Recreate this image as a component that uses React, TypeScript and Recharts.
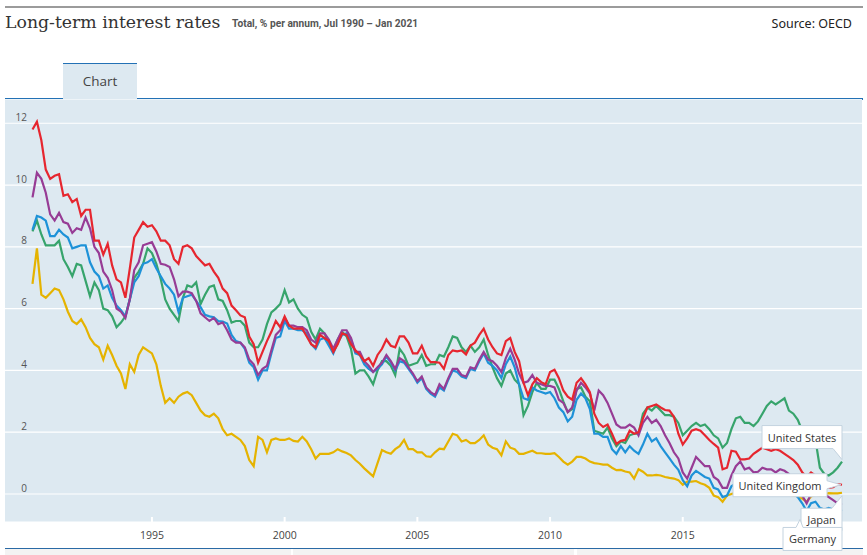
import React from "react";
import { LineChart, Line, XAxis, YAxis, CartesianGrid } from "recharts";

// bimonthly readings, Jul 1990 .. Jan 2021 (Jul, Sep, Nov, Jan, Mar, May ...)
const START_YEAR = 1990;
const START_MONTH = 7;

const UK = [
  11.8, 12.05, 11.45,
  10.5, 10.2, 10.3, 10.35, 9.65, 9.7,
  9.45, 9.55, 9.0, 9.2, 9.2, 8.2,
  8.2, 7.75, 8.1, 7.4, 6.95, 6.85,
  6.35, 7.3, 8.3, 8.55, 8.8, 8.65,
  8.7, 8.5, 8.2, 8.2, 8.05, 7.6,
  7.45, 8.0, 8.05, 7.95, 7.7, 7.55,
  7.4, 7.45, 7.2, 7.0, 6.65, 6.5,
  6.1, 5.95, 5.78, 5.72, 5.1, 4.85,
  4.25, 4.6, 4.95, 5.25, 5.6, 5.4,
  5.75, 5.45, 5.35, 5.35, 5.35, 5.1,
  4.85, 4.75, 5.15, 5.05, 4.95, 4.6,
  4.85, 5.2, 5.15, 4.85, 4.65, 4.5,
  4.3, 4.4, 4.15, 4.5, 4.7, 5.0,
  4.8, 4.75, 5.1, 5.1, 4.9, 4.55,
  4.55, 4.8, 4.45, 4.27, 4.27, 4.25,
  4.05, 4.5, 4.65, 4.62, 4.65, 4.52,
  4.8, 4.9, 5.15, 5.35, 5.0, 4.75,
  4.55, 4.5, 4.95, 5.05, 4.6, 4.3,
  3.6, 3.2, 3.55, 3.75, 3.62, 3.55,
  3.95, 4.02, 3.75, 3.35, 3.15, 3.05,
  3.6, 3.75, 3.55, 3.3, 2.6, 2.3,
  2.17, 2.25, 1.95, 1.62, 1.72, 1.75,
  2.05, 1.95, 2.0, 2.45, 2.8, 2.85,
  2.9, 2.8, 2.72, 2.7, 2.5, 1.95,
  1.6, 1.8, 2.05, 2.1, 2.05, 1.9,
  1.75, 1.62, 1.5, 0.8, 0.85, 1.4,
  1.37, 1.12, 1.12, 1.15, 1.3, 1.4,
  1.5, 1.45, 1.4, 1.45, 1.4, 1.3,
  1.2, 1.1, 0.95, 0.7, 0.55, 0.7,
  0.6, 0.45, 0.25, 0.2, 0.22, 0.32,
  0.3,
];

const US = [
  8.5, 8.85, 8.4,
  8.05, 8.05, 8.05, 8.2, 7.6, 7.35,
  7.05, 7.45, 7.4, 6.9, 6.4, 6.85,
  6.6, 6.0, 5.95, 5.75, 5.4, 5.55,
  5.75, 6.3, 7.0, 7.2, 7.45, 7.95,
  7.8, 7.45, 6.95, 6.3, 6.0, 5.8,
  5.6, 6.35, 6.75, 6.7, 6.85, 6.15,
  6.45, 6.7, 6.75, 6.3, 6.25, 5.95,
  5.55, 5.6, 5.6, 5.45, 4.9, 4.75,
  4.75, 5.0, 5.5, 5.88, 6.0, 6.15,
  6.6, 6.2, 6.3, 6.0, 5.8, 5.7,
  5.25, 5.0, 5.35, 5.2, 4.9, 4.65,
  5.0, 5.25, 5.1, 4.7, 3.9, 4.0,
  4.0, 3.8, 3.55, 4.0, 4.3, 4.3,
  4.15, 3.85, 4.7, 4.5, 4.15, 4.2,
  4.25, 4.5, 4.15, 4.2, 4.2, 4.5,
  4.45, 4.75, 5.1, 5.05, 4.75, 4.6,
  4.8, 4.6, 4.75, 5.0, 4.5, 4.1,
  3.75, 3.5, 3.9, 4.0, 3.7, 3.55,
  2.55, 2.85, 3.3, 3.6, 3.4, 3.4,
  3.7, 3.7, 3.4, 3.0, 2.65, 2.75,
  3.4, 3.45, 3.15, 3.0, 2.05, 2.0,
  1.95, 2.15, 1.8, 1.55, 1.7, 1.65,
  1.9, 1.95, 1.95, 2.6, 2.8, 2.7,
  2.85, 2.7, 2.55, 2.55, 2.5, 2.3,
  1.9, 2.05, 2.2, 2.3, 2.2, 2.25,
  2.1, 1.9, 1.8, 1.5, 1.65, 2.1,
  2.45, 2.5, 2.3, 2.3, 2.2, 2.35,
  2.6, 2.85, 3.0, 2.9, 3.0, 3.1,
  2.7, 2.6, 2.4, 2.05, 1.7, 1.8,
  1.75, 0.85, 0.65, 0.6, 0.7, 0.85,
  1.05,
];

const GERMANY = [
  8.55, 9.0, 8.95,
  8.85, 8.35, 8.35, 8.55, 8.4, 8.3,
  7.95, 8.0, 8.05, 8.05, 7.5, 7.2,
  7.05, 6.65, 6.75, 6.35, 6.1, 5.95,
  5.75, 6.3, 6.85, 7.05, 7.45, 7.5,
  7.6, 7.3, 7.05, 6.8, 6.65, 6.45,
  5.9, 6.35, 6.4, 6.45, 6.25, 6.05,
  5.8, 5.75, 5.72, 5.6, 5.58, 5.52,
  5.15, 4.95, 4.9, 4.7, 4.25, 4.1,
  3.7, 4.0, 4.0, 4.55, 5.05, 5.1,
  5.6, 5.35, 5.35, 5.3, 5.3, 5.2,
  4.85, 4.7, 5.0, 5.05, 4.8, 4.55,
  4.9, 5.15, 5.2, 5.0, 4.55, 4.5,
  4.2, 4.05, 3.95, 4.05, 4.2, 4.45,
  4.25, 4.0, 4.3, 4.25, 4.05, 3.85,
  3.6, 3.75, 3.4, 3.25, 3.15, 3.45,
  3.35, 3.7, 4.0, 3.95, 3.8, 3.75,
  4.05, 4.0, 4.3, 4.55, 4.25, 4.15,
  4.0, 3.75, 4.2, 4.45, 4.1, 3.55,
  3.1, 3.05, 3.45, 3.35, 3.3, 3.25,
  3.3, 3.1, 2.8, 2.65, 2.35, 2.5,
  3.05, 3.25, 3.1, 2.75, 1.95, 1.95,
  1.85, 1.85, 1.45, 1.3, 1.55, 1.35,
  1.55, 1.4, 1.3, 1.6, 1.95, 1.7,
  1.8, 1.55, 1.35, 1.15, 0.95, 0.78,
  0.45, 0.25, 0.6, 0.75, 0.65, 0.55,
  0.5, 0.2, 0.15, -0.1, -0.05, 0.25,
  0.35, 0.4, 0.35, 0.55, 0.42, 0.37,
  0.55, 0.6, 0.5, 0.35, 0.45, 0.35,
  0.15, 0.0, -0.1, -0.3, -0.55, -0.3,
  -0.25, -0.45, -0.5, -0.45, -0.5, -0.55,
  -0.5,
];

const FRANCE = [
  9.6, 10.4, 10.2,
  9.75, 9.05, 8.85, 9.1, 8.8, 8.75,
  8.45, 8.6, 8.55, 8.95, 8.6, 8.0,
  7.8, 7.2, 7.0, 6.6, 6.0, 5.9,
  5.7, 6.3, 7.25, 7.5, 8.05, 8.1,
  8.15, 7.85, 7.45, 7.42, 7.35, 6.95,
  6.4, 6.55, 6.55, 6.5, 6.25, 5.85,
  5.72, 5.6, 5.7, 5.5, 5.55, 5.3,
  5.0, 4.9, 4.9, 4.75, 4.35, 4.2,
  3.85, 4.05, 4.15, 4.65, 5.15, 5.3,
  5.7, 5.45, 5.45, 5.4, 5.4, 5.3,
  5.0, 4.9, 5.2, 5.2, 5.0, 4.7,
  5.0, 5.3, 5.3, 5.05, 4.6, 4.6,
  4.3, 4.15, 3.95, 4.1, 4.25, 4.5,
  4.3, 4.05, 4.4, 4.3, 4.1, 3.9,
  3.65, 3.8, 3.45, 3.3, 3.2, 3.55,
  3.4, 3.75, 4.05, 4.05, 3.85, 3.8,
  4.1, 4.05, 4.35, 4.6, 4.35, 4.3,
  4.15, 3.95, 4.4, 4.7, 4.35, 3.9,
  3.6, 3.65, 3.85, 3.6, 3.55, 3.5,
  3.5, 3.45, 3.05, 2.95, 2.65, 2.8,
  3.35, 3.6, 3.45, 3.25, 2.7, 3.35,
  3.2, 2.95, 2.6, 2.25, 2.15, 2.15,
  2.25, 2.15, 1.9, 2.3, 2.5, 2.3,
  2.4, 2.2, 1.9, 1.65, 1.35, 1.15,
  0.7, 0.5, 0.85, 1.2, 1.05, 0.9,
  0.9, 0.55, 0.45, 0.2, 0.2, 0.6,
  0.9, 1.05, 0.8, 0.85, 0.7, 0.72,
  0.85, 0.8, 0.8, 0.7, 0.8, 0.75,
  0.65, 0.4, 0.3, -0.05, -0.3, 0.0,
  0.0, 0.0, 0.0, -0.1, -0.2, -0.3,
  -0.35,
];

const JAPAN = [
  6.8, 7.95, 6.45,
  6.35, 6.5, 6.65, 6.6, 6.3, 5.9,
  5.6, 5.5, 5.65, 5.4, 5.05, 4.85,
  4.75, 4.35, 4.8, 4.5, 4.15, 3.9,
  3.4, 4.2, 3.95, 4.5, 4.75, 4.65,
  4.55, 4.2, 3.5, 2.95, 3.1, 2.95,
  3.15, 3.25, 3.3, 3.2, 2.95, 2.7,
  2.55, 2.5, 2.6, 2.45, 2.1, 1.9,
  1.95, 1.85, 1.75, 1.55, 1.1, 0.9,
  1.85, 1.75, 1.35, 1.75, 1.8, 1.75,
  1.75, 1.8, 1.72, 1.7, 1.85, 1.7,
  1.45, 1.15, 1.3, 1.3, 1.3, 1.35,
  1.45, 1.38, 1.33, 1.25, 1.1, 0.98,
  0.83, 0.7, 0.57, 1.0, 1.42, 1.35,
  1.3, 1.45, 1.55, 1.75, 1.45, 1.45,
  1.35, 1.35, 1.22, 1.2, 1.35, 1.47,
  1.45, 1.7, 1.95, 1.9, 1.7, 1.75,
  1.65, 1.65, 1.75, 1.9, 1.6, 1.5,
  1.45, 1.25, 1.7, 1.5, 1.45, 1.3,
  1.3, 1.35, 1.4, 1.32, 1.32, 1.3,
  1.3, 1.32, 1.2, 1.05, 0.95, 1.05,
  1.2, 1.2, 1.15, 1.05, 1.0, 0.98,
  0.95, 0.95, 0.85, 0.77, 0.78, 0.73,
  0.7, 0.5, 0.8, 0.72, 0.6, 0.6,
  0.62, 0.6, 0.55, 0.52, 0.5, 0.45,
  0.3, 0.4, 0.4, 0.42, 0.35, 0.3,
  0.2, -0.05, -0.1, -0.25, -0.05, 0.0,
  0.05, 0.07, 0.03, 0.07, 0.03, 0.04,
  0.06, 0.04, 0.05, 0.05, 0.12, 0.1,
  0.0, -0.05, -0.07, -0.15, -0.25, -0.08,
  -0.02, -0.05, -0.01, 0.03, 0.02, 0.02,
  0.04,
];

const Y_TICKS = [0, 2, 4, 6, 8, 10, 12];
const X_TICKS = [1995, 2000, 2005, 2010, 2015];

const COLORS = {
  us: "#37a46c",
  jp: "#e5b300",
  de: "#1e92d8",
  fr: "#973c95",
  uk: "#e6262f",
};

const data = UK.map((uk, i) => {
  const m = START_MONTH - 1 + 2 * i;
  return {
    t: START_YEAR + m / 12,
    uk,
    us: US[i],
    de: GERMANY[i],
    fr: FRANCE[i],
    jp: JAPAN[i],
  };
});
const LAST = data.length - 1;

// callout boxes, relative to the last point of each line
const CALLOUTS: Record<string, { text: string; path: string; cx: number; cy: number }> = {
  us: { text: "United States", path: "M -80 -36 H 0 V -2 L -9 -13 H -80 Z", cx: -40, cy: -24.5 },
  uk: { text: "United Kingdom", path: "M -109 -11 H -15 V -4 L -1 0 L -15 4 V 12 H -109 Z", cx: -62, cy: 0.5 },
  jp: { text: "Japan", path: "M -41 15.5 H -10 L 0 3 V 38 H -41 Z", cx: -20.5, cy: 27 },
  de: { text: "Germany", path: "M -59 18 H -46 L -42 10 L -39 18 H 0 V 41 H -59 Z", cx: -29.5, cy: 29.5 },
};

const endLabel = (key: string) => (props: any) => {
  const { x, y, index } = props;
  if (index !== LAST) return null;
  const c = CALLOUTS[key];
  return (
    <g transform={`translate(${x},${y})`}>
      <path d={c.path} fill="#fff" stroke="#c4d3df" strokeWidth={1} />
      <text
        x={c.cx}
        y={c.cy}
        textAnchor="middle"
        dominantBaseline="central"
        fontSize={11}
        fontFamily="'Open Sans', sans-serif"
        fill="#333"
      >
        {c.text}
      </text>
    </g>
  );
};

const YTick = (props: any) => {
  const { y, payload } = props;
  return (
    <text
      x={22}
      y={y - 6.5}
      textAnchor="end"
      dominantBaseline="central"
      fontSize={10}
      fontFamily="'Open Sans', sans-serif"
      fill="#555"
    >
      {payload.value}
    </text>
  );
};

const XTick = (props: any) => {
  const { x, y, payload } = props;
  return (
    <g>
      <line x1={x} x2={x} y1={y - 5} y2={y} stroke="#fff" strokeWidth={2} />
      <text
        x={x}
        y={y + 12.5}
        textAnchor="middle"
        dominantBaseline="central"
        fontSize={10.5}
        fontFamily="'Open Sans', sans-serif"
        fill="#444"
      >
        {payload.value}
      </text>
    </g>
  );
};

export default function App() {
  return (
    <div
      style={{
        position: "absolute",
        left: 0,
        top: 0,
        width: 867,
        height: 555,
        background: "#fff",
        overflow: "hidden",
      }}
    >
      <div style={{ position: "absolute", left: 5, top: 6, width: 858, height: 2, background: "#9b9b9b" }} />
      <div
        style={{
          position: "absolute",
          left: 5,
          top: 12,
          fontFamily: "'DejaVu Serif', serif",
          fontSize: 17.3,
          color: "#333",
          whiteSpace: "nowrap",
        }}
      >
        Long-term interest rates
      </div>
      <div
        style={{
          position: "absolute",
          left: 232,
          top: 18,
          fontFamily: "'Liberation Sans Narrow', 'Roboto', sans-serif",
          fontWeight: "bold",
          fontSize: 10.2,
          color: "#555",
          whiteSpace: "nowrap",
        }}
      >
        Total, % per annum, Jul 1990 – Jan 2021
      </div>
      <div
        style={{
          position: "absolute",
          right: 15,
          top: 15,
          fontFamily: "'Noto Sans', sans-serif",
          fontSize: 12.5,
          color: "#222",
          whiteSpace: "nowrap",
        }}
      >
        Source: OECD
      </div>

      {/* tab */}
      <div style={{ position: "absolute", left: 5, top: 98, width: 858, height: 1.5, background: "#2371b5" }} />
      <div
        style={{
          position: "absolute",
          left: 63,
          top: 63,
          width: 74,
          height: 36,
          background: "#dde9f1",
          borderTop: "1.5px solid #2371b5",
          boxSizing: "border-box",
          textAlign: "center",
          lineHeight: "34px",
          fontFamily: "'Open Sans', sans-serif",
          fontSize: 13.5,
          color: "#444",
        }}
      >
        Chart
      </div>

      {/* bottom strip */}
      <div style={{ position: "absolute", left: 5, top: 547.5, width: 858, height: 1.5, background: "#2a6aa5" }} />
      <div style={{ position: "absolute", left: 5, top: 549, width: 286, height: 6, background: "#f3f3f3" }} />
      <div style={{ position: "absolute", left: 293, top: 549, width: 281, height: 6, background: "#f3f3f3" }} />
      <div style={{ position: "absolute", left: 577, top: 549, width: 286, height: 6, background: "#f3f3f3" }} />

      <div style={{ position: "absolute", left: 5, top: 99 }}>
        <LineChart
          width={857}
          height={454}
          data={data}
          margin={{ top: 0, right: 0, bottom: 0, left: 0 }}
          style={{ overflow: "visible" }}
        >
          <CartesianGrid horizontal vertical={false} stroke="#ffffff" strokeWidth={1.2} fill="#dde9f1" />
          <XAxis
            dataKey="t"
            type="number"
            domain={[1989.464, 2021.753]}
            ticks={X_TICKS}
            allowDataOverflow
            axisLine={false}
            tickLine={false}
            tickSize={0}
            tickMargin={0}
            height={31}
            tick={<XTick />}
            interval={0}
          />
          <YAxis
            type="number"
            domain={[-0.906, 12.785]}
            ticks={Y_TICKS}
            allowDataOverflow
            mirror
            width={30}
            axisLine={false}
            tickLine={false}
            tick={<YTick />}
            interval={0}
          />
          <Line dataKey="us" stroke={COLORS.us} strokeWidth={2.2} dot={false} activeDot={false} isAnimationActive={false} />
          <Line dataKey="jp" stroke={COLORS.jp} strokeWidth={2.2} dot={false} activeDot={false} isAnimationActive={false} />
          <Line dataKey="de" stroke={COLORS.de} strokeWidth={2.2} dot={false} activeDot={false} isAnimationActive={false} />
          <Line dataKey="fr" stroke={COLORS.fr} strokeWidth={2.2} dot={false} activeDot={false} isAnimationActive={false} />
          <Line dataKey="uk" stroke={COLORS.uk} strokeWidth={2.2} dot={false} activeDot={false} isAnimationActive={false} />
          {/* callout layers drawn above all lines */}
          {["us", "uk", "jp", "de"].map((k) => (
            <Line
              key={`lbl-${k}`}
              dataKey={k}
              stroke="none"
              dot={false}
              activeDot={false}
              isAnimationActive={false}
              label={endLabel(k)}
            />
          ))}
        </LineChart>
      </div>
    </div>
  );
}
